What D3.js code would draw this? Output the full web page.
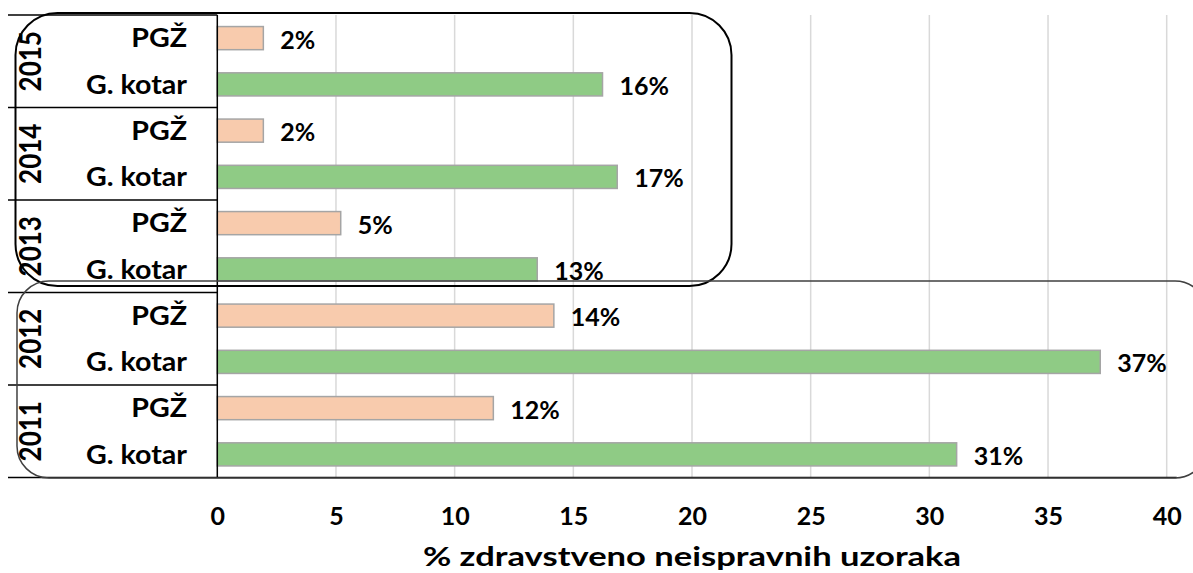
<!DOCTYPE html>
<html>
<head>
<meta charset="utf-8">
<script src="https://cdn.jsdelivr.net/npm/d3@7"></script>
<style>
  html, body { margin: 0; padding: 0; background: #fff; }
  svg { display: block; }
  text { font-family: Lato, "Noto Sans", sans-serif; font-weight: bold; fill: #000; }
</style>
</head>
<body>
<svg id="chart" width="1193" height="573"></svg>
<script>
// ---- data ----
const years = ["2015", "2014", "2013", "2012", "2011"];
const groups = ["PGŽ", "G. kotar"];
const pgzValues = [1.94, 1.94, 5.2, 14.18, 11.63];
const kotarValues = [16.23, 16.85, 13.48, 37.2, 31.15];
const pgzLabels = ["2%", "2%", "5%", "14%", "12%"];
const kotarLabels = ["16%", "17%", "13%", "37%", "31%"];
const xTicks = [0, 5, 10, 15, 20, 25, 30, 35, 40];
const xTitle = "% zdravstveno neispravnih uzoraka";
const colors = { "PGŽ": "#f8cbad", "G. kotar": "#8fcb85" };

// rows in display order
const rows = [];
years.forEach((y, i) => {
  rows.push({ year: y, group: groups[0], value: pgzValues[i], label: pgzLabels[i] });
  rows.push({ year: y, group: groups[1], value: kotarValues[i], label: kotarLabels[i] });
});

const svg = d3.select("#chart");
const plotLeft = 217.3, plotRight = 1166.7, plotTop = 15, plotBottom = 477.5;
const labelLeft = 8;

const x = d3.scaleLinear().domain([0, 40]).range([plotLeft, plotRight]);
const y = d3.scaleBand().domain(rows.map((d, i) => i)).range([plotTop, plotBottom]).padding(0);
const yearScale = d3.scaleBand().domain(years).range([plotTop, plotBottom]).padding(0);
const barH = y.bandwidth() * 0.5;

// gridlines
svg.append("g").selectAll("line").data(xTicks.filter(t => t > 0)).join("line")
  .attr("x1", d => x(d)).attr("x2", d => x(d))
  .attr("y1", plotTop).attr("y2", plotBottom)
  .attr("stroke", "#d9d9d9").attr("stroke-width", 1.5);

// bars
svg.append("g").selectAll("rect").data(rows).join("rect")
  .attr("x", x(0))
  .attr("y", (d, i) => y(i) + (y.bandwidth() - barH) / 2)
  .attr("width", d => x(d.value) - x(0))
  .attr("height", barH)
  .attr("fill", d => colors[d.group])
  .attr("stroke", "#a5a5a5").attr("stroke-width", 1.5);

// data labels
svg.append("g").selectAll("text").data(rows).join("text")
  .attr("x", d => x(d.value) + 17)
  .attr("y", (d, i) => y(i) + y.bandwidth() / 2 + 1.5)
  .attr("dy", "0.36em")
  .attr("font-size", 25)
  .text(d => d.label);

// x axis (tick labels only)
const xAxis = d3.axisBottom(x).tickValues(xTicks).tickSize(0).tickPadding(0).tickFormat(d3.format("d"));
const gx = svg.append("g").attr("transform", `translate(0,${plotBottom})`).call(xAxis);
gx.select(".domain").remove();
gx.selectAll("text").attr("y", 47.5).attr("dy", null).attr("font-size", 25)
  .attr("font-family", "Lato, 'Noto Sans', sans-serif").attr("font-weight", "bold").attr("fill", "#000");

// axis title
svg.append("text")
  .attr("transform", `translate(${(plotLeft + plotRight) / 2},566) scale(1.28,1)`)
  .attr("text-anchor", "middle").attr("font-size", 27).text(xTitle);

// category axis lines
svg.append("line").attr("x1", plotLeft).attr("x2", plotLeft).attr("y1", plotTop).attr("y2", plotBottom)
  .attr("stroke", "#000").attr("stroke-width", 1.5);
svg.append("line").attr("x1", labelLeft).attr("x2", plotRight + 10).attr("y1", plotBottom).attr("y2", plotBottom)
  .attr("stroke", "#000").attr("stroke-width", 1.5);
svg.append("g").selectAll("line").data(years).join("line")
  .attr("x1", labelLeft).attr("x2", plotLeft)
  .attr("y1", d => yearScale(d)).attr("y2", d => yearScale(d))
  .attr("stroke", "#000").attr("stroke-width", 1.5);

// inner category labels
svg.append("g").selectAll("text").data(rows).join("text")
  .attr("transform", (d, i) => `translate(187,${y(i) + y.bandwidth() / 2}) scale(1.1,1)`)
  .attr("dy", "0.36em")
  .attr("text-anchor", "end")
  .attr("font-size", 26)
  .text(d => d.group);

// year labels (rotated)
svg.append("g").selectAll("text").data(years).join("text")
  .attr("transform", d => `translate(30,${yearScale(d) + yearScale.bandwidth() / 2}) scale(1.18,1) rotate(-90)`)
  .attr("text-anchor", "middle").attr("dy", "0.36em")
  .attr("font-size", 26)
  .text(d => d);

// annotation rounded rectangles
svg.append("rect").attr("x", 15.5).attr("y", 13).attr("width", 716).attr("height", 273)
  .attr("rx", 42).attr("ry", 42).attr("fill", "none").attr("stroke", "#000").attr("stroke-width", 2);
svg.append("rect").attr("x", 17).attr("y", 281).attr("width", 1190).attr("height", 197)
  .attr("rx", 32).attr("ry", 32).attr("fill", "none").attr("stroke", "#404040").attr("stroke-width", 1.5);
</script>
</body>
</html>
